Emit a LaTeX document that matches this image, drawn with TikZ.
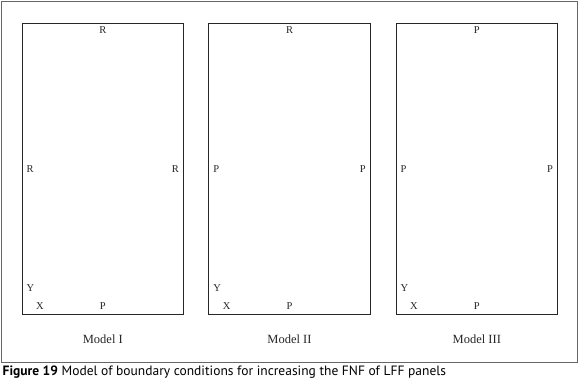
\documentclass[tikz,border=0pt]{standalone}
\usepackage{fontspec}
\setmainfont{Liberation Serif}
\newfontfamily\capfont{PT Sans}
\usepackage{tikz}
\usetikzlibrary{positioning}

\begin{document}
\begin{tikzpicture}[
    x=1pt, y=-1pt,
    frame/.style={draw=black!60, line width=0.9pt},
    panel/.style={
      draw=black!85,
      line width=1.1pt,
      minimum width=161.5pt,
      minimum height=290.7pt,
      inner sep=0pt
    },
    cond/.style={font=\fontsize{10.5}{12}\selectfont, text=black!85, inner sep=0pt},
    modelname/.style={font=\fontsize{12.5}{14}\selectfont, text=black!85, inner sep=0pt}
  ]
    \useasboundingbox (0,0) rectangle (580,387);
    \draw[frame] (1.5,1.5) rectangle (577.5,362);

    \node[panel] (P1) at (102.8,168.7) {};
    \node[panel] (P2) at (289.5,168.7) {};
    \node[panel] (P3) at (476.8,168.7) {};

    % Model I
    \node[cond, below=3.5pt of P1.north]                   (P1top)   {R};
    \node[cond, right=5pt of P1.west]                      (P1left)  {R};
    \node[cond, left=5pt of P1.east]                       (P1right) {R};
    \node[cond, above right=22.5pt and 5pt of P1.south west] (P1y)   {Y};
    \node[cond, above right=4.5pt and 14.5pt of P1.south west] (P1x) {X};
    \node[cond, above=4.5pt of P1.south]                   (P1bot)   {P};
    \node[modelname, below=20pt of P1.south]               (M1)      {Model I};

    % Model II
    \node[cond, below=3.5pt of P2.north]                   (P2top)   {R};
    \node[cond, right=5pt of P2.west]                      (P2left)  {P};
    \node[cond, left=5pt of P2.east]                       (P2right) {P};
    \node[cond, above right=22.5pt and 5pt of P2.south west] (P2y)   {Y};
    \node[cond, above right=4.5pt and 14.5pt of P2.south west] (P2x) {X};
    \node[cond, above=4.5pt of P2.south]                   (P2bot)   {P};
    \node[modelname, below=20pt of P2.south]               (M2)      {Model II};

    % Model III
    \node[cond, below=3.5pt of P3.north]                   (P3top)   {P};
    \node[cond, right=5pt of P3.west]                      (P3left)  {P};
    \node[cond, left=5pt of P3.east]                       (P3right) {P};
    \node[cond, above right=22.5pt and 5pt of P3.south west] (P3y)   {Y};
    \node[cond, above right=4.5pt and 14.5pt of P3.south west] (P3x) {X};
    \node[cond, above=4.5pt of P3.south]                   (P3bot)   {P};
    \node[modelname, below=20pt of P3.south]               (M3)      {Model III};

    \node[anchor=base west, inner sep=0pt, font=\capfont\fontsize{13.5}{15}\selectfont]
      (caption) at (2.5,375.5) {\textbf{Figure 19} Model of boundary conditions for increasing the FNF of LFF panels};
  \end{tikzpicture}
\end{document}
